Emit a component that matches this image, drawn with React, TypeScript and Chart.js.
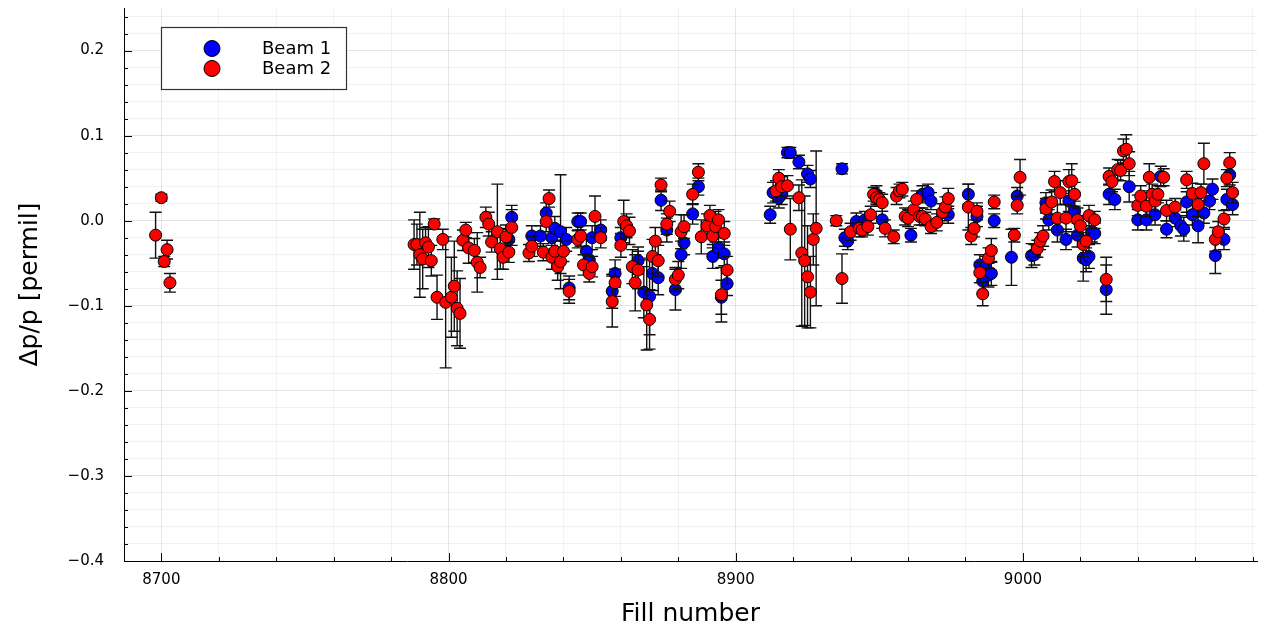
import React, { useEffect, useRef } from "react";
import { Chart, registerables } from "chart.js";

Chart.register(...registerables);

// ---- Beam 1 (blue) ----
const fills1 = [8821, 8822,
  8829, 8832, 8834, 8836, 8837, 8839, 8841, 8842, 8845, 8846,
  8848, 8849, 8850, 8853, 8857, 8858, 8860, 8866, 8868, 8870,
  8871, 8873, 8874, 8876, 8879, 8881, 8882, 8885, 8887, 8892,
  8894, 8895, 8896, 8897,
  8912, 8913, 8915, 8916, 8918, 8919, 8922, 8925, 8926, 8937,
  8938, 8939, 8942, 8945, 8949, 8951, 8961, 8965, 8967, 8968, 8974,
  8981, 8984, 8985, 8986, 8987, 8988, 8989, 8990, 8996, 8998,
  9003, 9004, 9008, 9009, 9012, 9015, 9016, 9018, 9019, 9021,
  9022, 9023, 9024, 9025, 9029,
  9030, 9032, 9037, 9040, 9043, 9046, 9048, 9050, 9053, 9055,
  9056, 9057, 9059, 9061, 9063, 9065, 9066, 9067, 9070, 9071, 9072, 9073];
const beam1 = [-0.022, 0.004,
  -0.018, -0.018, 0.009, -0.020, -0.009, -0.013, -0.022, -0.079, -0.001, -0.001,
  -0.036, -0.046, -0.020, -0.011, -0.083, -0.062, -0.020, -0.047, -0.084, -0.089,
  -0.062, -0.067, 0.024, -0.011, -0.081, -0.040, -0.026, 0.008, 0.040, -0.042,
  -0.032, -0.090, -0.039, -0.074,
  0.007, 0.033, 0.027, 0.031, 0.080, 0.080, 0.069, 0.055, 0.049, 0.061,
  -0.020, -0.024, -0.001, 0.001, 0.031, 0.001, -0.017, 0.031, 0.033, 0.023, 0.007,
  0.031, 0.005, -0.052, -0.071, -0.054, -0.064, -0.062, 0.000, -0.043, 0.029,
  -0.041, -0.040, 0.021, 0.001, -0.011, -0.022, 0.023, 0.011, -0.017, -0.044,
  -0.046, -0.042, -0.013, -0.015, -0.081,
  0.031, 0.025, 0.040, 0.001, 0.001, 0.007, 0.052, -0.010, 0.003, -0.006,
  -0.010, 0.022, 0.007, -0.006, 0.009, 0.023, 0.037, -0.041, -0.022, 0.025, 0.054, 0.019];
const err1 = [0.012, 0.014,
  0.012, 0.012, 0.012, 0.014, 0.014, 0.067, 0.014, 0.014, 0.010, 0.010,
  0.014, 0.012, 0.014, 0.012, 0.020, 0.016, 0.012, 0.016, 0.030, 0.045,
  0.020, 0.020, 0.012, 0.014, 0.024, 0.016, 0.014, 0.012, 0.010, 0.014,
  0.012, 0.020, 0.014, 0.014,
  0.010, 0.012, 0.012, 0.012, 0.006, 0.006, 0.008, 0.010, 0.010, 0.006,
  0.010, 0.010, 0.010, 0.010, 0.010, 0.010, 0.008, 0.010, 0.010, 0.010, 0.010,
  0.012, 0.012, 0.012, 0.014, 0.012, 0.014, 0.014, 0.008, 0.033, 0.010,
  0.014, 0.012, 0.012, 0.012, 0.014, 0.012, 0.012, 0.012, 0.014, 0.027,
  0.014, 0.014, 0.012, 0.012, 0.029,
  0.012, 0.012, 0.018, 0.012, 0.012, 0.012, 0.012, 0.010, 0.010, 0.012,
  0.014, 0.012, 0.012, 0.020, 0.012, 0.010, 0.012, 0.021, 0.012, 0.012, 0.012, 0.012];

// ---- Beam 2 (red) ----
const fills2 = [8698, 8700, 8701, 8702, 8703,
  8788, 8789, 8790, 8791, 8792, 8793, 8794, 8795, 8796, 8798,
  8799, 8801, 8802, 8803, 8804, 8805, 8806, 8807, 8809, 8810,
  8811, 8813, 8814, 8815, 8817, 8818, 8819, 8820, 8821, 8822,
  8828, 8829, 8833, 8834, 8835, 8836, 8837, 8838, 8839, 8840,
  8842, 8845, 8846, 8847, 8849, 8850, 8851, 8853, 8857, 8858,
  8860, 8861, 8862, 8863, 8864, 8865, 8866, 8869, 8870, 8871,
  8872, 8873, 8874, 8876, 8877, 8879, 8880, 8881, 8882, 8885,
  8887, 8888, 8890, 8891, 8892, 8893, 8894, 8895, 8896, 8897,
  8914, 8915, 8916, 8918, 8919, 8922, 8923, 8924, 8925, 8926,
  8927, 8928, 8935, 8937, 8940, 8943, 8944, 8946, 8947, 8948,
  8949, 8950, 8951, 8952, 8955, 8956, 8957, 8958, 8959, 8960,
  8962, 8963, 8964, 8965, 8966, 8968, 8970, 8972, 8973, 8974,
  8981, 8982, 8983, 8984, 8985, 8986, 8988, 8989, 8990, 8997,
  8998, 8999, 9005, 9006, 9007, 9008, 9010, 9011, 9012, 9013,
  9015, 9016, 9017, 9018, 9019, 9020, 9021, 9022, 9023, 9025,
  9029,
  9030, 9031, 9033, 9034, 9035, 9036, 9037, 9040, 9041, 9043,
  9044, 9045, 9046, 9047, 9049, 9050, 9053, 9057, 9059, 9061,
  9062, 9063, 9067, 9068, 9070, 9071, 9072, 9073];
const beam2 = [-0.017, 0.027, -0.048, -0.034, -0.073,
  -0.028, -0.028, -0.040, -0.045, -0.026, -0.031, -0.047, -0.004, -0.090, -0.022,
  -0.096, -0.090, -0.077, -0.103, -0.109, -0.023, -0.011, -0.032, -0.035, -0.049,
  -0.055, 0.004, -0.004, -0.025, -0.013, -0.033, -0.043, -0.019, -0.037, -0.008,
  -0.038, -0.030, -0.037, -0.001, 0.026, -0.043, -0.036, -0.054, -0.048, -0.036,
  -0.083, -0.022, -0.018, -0.052, -0.062, -0.054, 0.005, -0.020, -0.095, -0.073,
  -0.029, -0.001, -0.006, -0.012, -0.054, -0.073, -0.058, -0.099, -0.116, -0.042,
  -0.024, -0.047, 0.042, -0.004, 0.011, -0.069, -0.064, -0.013, -0.007, 0.031,
  0.057, -0.019, -0.006, 0.006, -0.018, -0.007, 0.001, -0.087, -0.015, -0.058,
  0.035, 0.050, 0.040, 0.041, -0.010, 0.027, -0.038, -0.047, -0.066, -0.084,
  -0.022, -0.009, 0.000, -0.068, -0.013, -0.009, -0.011, -0.007, 0.007, 0.031,
  0.027, 0.025, 0.021, -0.009, -0.019, 0.029, 0.035, 0.037, 0.005, 0.003,
  0.013, 0.025, 0.005, 0.005, 0.002, -0.007, -0.002, 0.010, 0.016, 0.026,
  0.016, -0.018, -0.009, 0.011, -0.061, -0.086, -0.044, -0.035, 0.022, -0.017,
  0.018, 0.051, -0.033, -0.024, -0.018, 0.014, 0.022, 0.046, 0.003, 0.033,
  0.003, 0.046, 0.047, 0.031, 0.001, -0.006, -0.028, -0.024, 0.006, 0.001,
  -0.069,
  0.052, 0.046, 0.060, 0.059, 0.082, 0.084, 0.067, 0.018, 0.029, 0.017,
  0.051, 0.031, 0.023, 0.031, 0.051, 0.012, 0.016, 0.048, 0.032, 0.019,
  0.033, 0.067, -0.022, -0.013, 0.002, 0.050, 0.068, 0.033];
const err2 = [0.027, 0.004, 0.006, 0.011, 0.011,
  0.029, 0.024, 0.050, 0.035, 0.018, 0.024, 0.018, 0.006, 0.026, 0.012,
  0.077, 0.047, 0.053, 0.044, 0.041, 0.012, 0.009, 0.018, 0.014, 0.035,
  0.012, 0.012, 0.014, 0.012, 0.056, 0.024, 0.014, 0.014, 0.012, 0.021,
  0.010, 0.012, 0.010, 0.012, 0.010, 0.014, 0.012, 0.016, 0.014, 0.012,
  0.014, 0.010, 0.012, 0.012, 0.010, 0.012, 0.024, 0.012, 0.030, 0.016,
  0.014, 0.025, 0.014, 0.016, 0.020, 0.033, 0.022, 0.053, 0.035, 0.020,
  0.016, 0.018, 0.008, 0.012, 0.012, 0.014, 0.016, 0.020, 0.014, 0.012,
  0.010, 0.020, 0.014, 0.012, 0.014, 0.018, 0.012, 0.032, 0.014, 0.016,
  0.012, 0.010, 0.012, 0.012, 0.036, 0.015, 0.086, 0.076, 0.060, 0.042,
  0.030, 0.091, 0.006, 0.029, 0.010, 0.010, 0.008, 0.010, 0.010, 0.008,
  0.008, 0.008, 0.010, 0.010, 0.008, 0.010, 0.008, 0.008, 0.010, 0.010,
  0.010, 0.010, 0.010, 0.010, 0.008, 0.008, 0.010, 0.010, 0.012, 0.012,
  0.027, 0.010, 0.010, 0.010, 0.012, 0.014, 0.012, 0.014, 0.008, 0.008,
  0.010, 0.021, 0.010, 0.010, 0.012, 0.012, 0.014, 0.012, 0.016, 0.014,
  0.016, 0.014, 0.020, 0.014, 0.014, 0.012, 0.014, 0.014, 0.012, 0.010,
  0.026,
  0.010, 0.012, 0.012, 0.012, 0.014, 0.017, 0.014, 0.012, 0.012, 0.012,
  0.016, 0.012, 0.012, 0.010, 0.010, 0.012, 0.010, 0.010, 0.012, 0.014,
  0.010, 0.024, 0.014, 0.012, 0.010, 0.010, 0.012, 0.012];

const seriesNames = ["Beam 1", "Beam 2"];
const seriesColors = ["#0000ff", "#ff0000"];
const xTickLabels = [8700, 8800, 8900, 9000];
const yTickLabels = [-0.4, -0.3, -0.2, -0.1, 0.0, 0.1, 0.2];
const xTitle = "Fill number";
const yTitle = "\u0394p/p [permil]";

const X_MIN = 8687;
const X_MAX = 9081.5;
const Y_MIN = -0.4;
const Y_MAX = 0.25;
const FONT = "DejaVu Sans";

const fmtY = (v: number) => {
  const s = Math.abs(v) < 1e-9 ? "0.0" : v.toFixed(1);
  return s.replace("-", "\u2212");
};
const isMajorX = (v: number) => xTickLabels.some((t) => Math.abs(t - v) < 1e-6);
const isMajorY = (v: number) => yTickLabels.some((t) => Math.abs(t - v) < 1e-9);

const errorBarPlugin = {
  id: "errorBars",
  beforeDatasetDraw(chart: any, args: any) {
    const ds = chart.data.datasets[args.index];
    const errs: number[] = ds.errors || [];
    const xs = chart.scales.x;
    const ys = chart.scales.y;
    const a = chart.chartArea;
    const ctx = chart.ctx;
    ctx.save();
    ctx.beginPath();
    ctx.rect(a.left, a.top, a.right - a.left, a.bottom - a.top);
    ctx.clip();
    ctx.strokeStyle = "#111";
    ctx.lineWidth = 1.4;
    ds.data.forEach((p: any, i: number) => {
      const e = errs[i];
      if (!e) return;
      const px = xs.getPixelForValue(p.x);
      const y1 = ys.getPixelForValue(p.y - e);
      const y2 = ys.getPixelForValue(p.y + e);
      ctx.beginPath();
      ctx.moveTo(px, y1);
      ctx.lineTo(px, y2);
      ctx.moveTo(px - 6, y1);
      ctx.lineTo(px + 6, y1);
      ctx.moveTo(px - 6, y2);
      ctx.lineTo(px + 6, y2);
      ctx.stroke();
    });
    ctx.restore();
  },
};

const axesPlugin = {
  id: "inwardTicksAndLegend",
  afterDraw(chart: any) {
    const ctx = chart.ctx;
    const a = chart.chartArea;
    const xs = chart.scales.x;
    const ys = chart.scales.y;
    ctx.save();
    ctx.strokeStyle = "#000";
    ctx.lineWidth = 1;
    ctx.beginPath();
    ys.ticks.forEach((t: any) => {
      const py = Math.round(ys.getPixelForValue(t.value)) + 0.5;
      const len = isMajorY(t.value) ? 8 : 4;
      ctx.moveTo(a.left, py);
      ctx.lineTo(a.left + len, py);
    });
    xs.ticks.forEach((t: any) => {
      const px = Math.round(xs.getPixelForValue(t.value)) + 0.5;
      const len = isMajorX(t.value) ? 8 : 4;
      ctx.moveTo(px, a.bottom);
      ctx.lineTo(px, a.bottom - len);
    });
    ctx.stroke();

    // legend
    const lx = 161.5, ly = 27.5, lw = 185, lh = 62;
    ctx.fillStyle = "#ffffff";
    ctx.fillRect(lx, ly, lw, lh);
    ctx.strokeStyle = "#333333";
    ctx.lineWidth = 1.2;
    ctx.strokeRect(lx, ly, lw, lh);
    seriesNames.forEach((name, i) => {
      const cy = 48.5 + i * 20;
      ctx.beginPath();
      ctx.arc(212, cy, 8, 0, Math.PI * 2);
      ctx.fillStyle = seriesColors[i];
      ctx.fill();
      ctx.strokeStyle = "#000";
      ctx.lineWidth = 1;
      ctx.stroke();
      ctx.fillStyle = "#000";
      ctx.font = `18px "${FONT}"`;
      ctx.textAlign = "left";
      ctx.textBaseline = "middle";
      ctx.fillText(name, 262, cy + 1);
    });
    ctx.restore();
  },
};

export default function App() {
  const ref = useRef<HTMLCanvasElement | null>(null);

  useEffect(() => {
    if (!ref.current) return;
    const d1 = fills1.map((f, i) => ({ x: f, y: beam1[i] }));
    const d2 = fills2.map((f, i) => ({ x: f, y: beam2[i] }));
    const chart = new Chart(ref.current, {
      type: "scatter",
      data: {
        datasets: [
          {
            label: seriesNames[0],
            data: d1,
            errors: err1,
            order: 2,
            pointRadius: 6,
            pointBorderWidth: 1,
            pointBackgroundColor: seriesColors[0],
            pointBorderColor: "#000",
            showLine: false,
          } as any,
          {
            label: seriesNames[1],
            data: d2,
            errors: err2,
            order: 1,
            pointRadius: 6,
            pointBorderWidth: 1,
            pointBackgroundColor: seriesColors[1],
            pointBorderColor: "#000",
            showLine: false,
          } as any,
        ],
      },
      options: {
        animation: false,
        responsive: false,
        devicePixelRatio: 1,
        layout: { padding: { top: 8, right: 1, left: 0, bottom: 0 } },
        plugins: { legend: { display: false }, tooltip: { enabled: false } },
        scales: {
          x: {
            type: "linear",
            min: X_MIN,
            max: X_MAX,
            afterBuildTicks: (s: any) => {
              const t = [];
              for (let v = 8700; v <= 9080; v += 20) t.push({ value: v });
              s.ticks = t;
            },
            afterFit: (s: any) => {
              s.height = 69;
              s.paddingLeft = 0;
              s.paddingRight = 0;
            },
            ticks: {
              autoSkip: false,
              maxRotation: 0,
              minRotation: 0,
              padding: 10,
              color: "#000",
              font: { family: FONT, size: 15 },
              callback: (v: any) => (isMajorX(Number(v)) ? String(v) : ""),
            },
            grid: {
              drawTicks: false,
              color: (c: any) =>
                c.tick && isMajorX(c.tick.value) ? "rgba(0,0,0,0.1)" : "rgba(0,0,0,0.05)",
            },
            border: { display: true, color: "#000", width: 1 },
            title: {
              display: true,
              text: xTitle,
              color: "#000",
              font: { family: FONT, size: 25 },
              padding: { top: 0, bottom: 1 },
            },
          },
          y: {
            type: "linear",
            min: Y_MIN,
            max: Y_MAX,
            afterBuildTicks: (s: any) => {
              const t = [];
              for (let k = -20; k <= 12; k++) t.push({ value: k / 50 });
              s.ticks = t;
            },
            afterFit: (s: any) => {
              s.width = 124;
              s.paddingTop = 0;
              s.paddingBottom = 0;
            },
            ticks: {
              autoSkip: false,
              padding: 20,
              color: "#000",
              font: { family: FONT, size: 15 },
              callback: (v: any) => {
                const n = Number(v);
                return isMajorY(n) ? fmtY(n) : "";
              },
            },
            grid: {
              drawTicks: false,
              color: (c: any) =>
                c.tick && isMajorY(c.tick.value) ? "rgba(0,0,0,0.1)" : "rgba(0,0,0,0.05)",
            },
            border: { display: true, color: "#000", width: 1 },
            title: {
              display: true,
              text: yTitle,
              color: "#000",
              font: { family: FONT, size: 25 },
              padding: { top: 15, bottom: 0 },
            },
          },
        },
      },
      plugins: [errorBarPlugin, axesPlugin],
    });
    return () => chart.destroy();
  }, []);

  return (
    <div style={{ position: "absolute", left: 0, top: 0, width: 1264, height: 630, background: "#fff" }}>
      <canvas ref={ref} width={1264} height={630} style={{ display: "block" }} />
    </div>
  );
}
